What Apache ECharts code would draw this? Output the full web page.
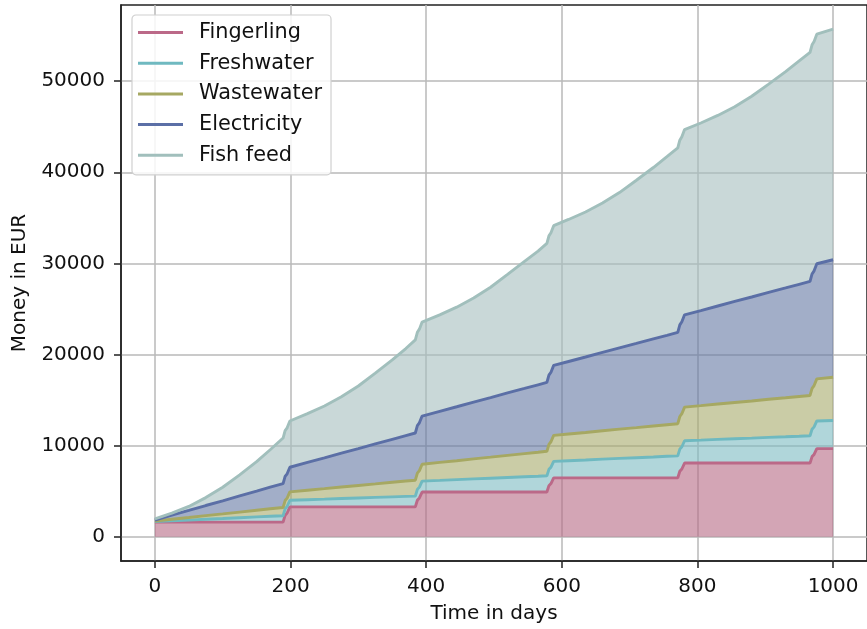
<!DOCTYPE html>
<html>
<head>
<meta charset="utf-8">
<script src="https://cdn.jsdelivr.net/npm/echarts@6/dist/echarts.min.js"></script>
<style>
html,body{margin:0;padding:0;background:#fff;}
#chart{width:867px;height:629px;}
</style>
</head>
<body>
<div id="chart"></div>
<script>
// Time axis (days) shared by all series
const days = [0,25,50,75,100,125,150,170,189, 192,195,199,
  225,250,275,300,325,350,370,384, 387,390,394,
  420,445,470,495,520,545,565,578, 581,584,588,
  610,635,660,685,710,735,755,771, 774,777,781,
  805,830,855,880,905,930,950,966, 969,972,976, 1000];

// Cost components in EUR (stacked)
const fingerling = [1600,1600,1600,1600,1600,1600,1600,1600,1600, 2350,2600,3270,
  3270,3270,3270,3270,3270,3270,3270,3270, 4000,4250,4900,
  4900,4900,4900,4900,4900,4900,4900,4900, 5600,5830,6450,
  6450,6450,6450,6450,6450,6450,6450,6450, 7180,7430,8080,
  8080,8080,8080,8080,8080,8080,8080,8080, 8790,9030,9660, 9660];

const freshwater = [50,140,220,310,390,480,570,640,700, 710,720,730,
  790,850,920,980,1040,1100,1150,1180, 1190,1190,1200,
  1280,1360,1440,1520,1600,1680,1740,1780, 1790,1800,1820,
  1890,1970,2060,2140,2220,2300,2370,2420, 2430,2440,2450,
  2520,2600,2670,2740,2820,2890,2950,3000, 3010,3020,3040, 3100];

const wastewater = [70,180,290,400,510,620,730,820,900, 905,910,920,
  1040,1150,1260,1370,1480,1600,1690,1750, 1780,1810,1850,
  1970,2080,2200,2310,2430,2540,2630,2690, 2740,2790,2850,
  2930,3020,3120,3210,3300,3400,3470,3530, 3580,3630,3690,
  3780,3880,3980,4080,4180,4280,4360,4420, 4480,4540,4620, 4740];

const electricity = [110,440,770,1110,1440,1770,2100,2370,2620, 2645,2670,2700,
  3050,3380,3720,4050,4390,4720,4990,5180, 5215,5250,5290,
  5610,5920,6230,6540,6850,7150,7400,7560, 7595,7630,7680,
  7960,8280,8600,8920,9240,9560,9810,10020, 10055,10090,10130,
  10440,10760,11090,11410,11730,12050,12310,12520, 12555,12590,12640, 12900];

const fishFeed = [130,220,440,870,1490,2310,3230,4110,5010, 5030,5050,5080,
  5350,5690,6180,6870,7770,8710,9550,10220, 10250,10280,10320,
  10590,10930,11420,12110,13010,13950,14680,15270, 15290,15310,15340,
  15590,15920,16390,17050,17910,18810,19610,20250, 20280,20310,20340,
  20590,20920,21380,22030,22870,23750,24530,25140, 25160,25180,25200, 25300];

const seriesNames = ['Fingerling','Freshwater','Wastewater','Electricity','Fish feed'];
const xTicks = [0,200,400,600,800,1000];
const yTicks = [0,10000,20000,30000,40000,50000];

const lineColors = ['#bb6988','#6fb9c0','#a6a862','#5b6fa6','#a1bfbc'];
const fillColors = ['rgba(182,105,132,0.6)','rgba(123,187,193,0.6)','rgba(167,170,107,0.6)','rgba(100,120,163,0.6)','rgba(165,190,190,0.6)'];

const values = [fingerling, freshwater, wastewater, electricity, fishFeed];
const FONT = 'DejaVu Sans';

const chart = echarts.init(document.getElementById('chart'), null, {renderer:'canvas'});
chart.setOption({
  animation:false,
  backgroundColor:'#fff',
  grid:{left:121, right:-6, top:5, bottom:66, show:true, borderColor:'#222', borderWidth:1.5, backgroundColor:'transparent', containLabel:false},
  legend:{
    orient:'vertical', left:132, top:15,
    padding:[7,9,9,6],
    backgroundColor:'rgba(255,255,255,0.85)',
    borderColor:'#d0d0d0', borderWidth:1.2, borderRadius:4,
    icon:'rect', itemWidth:45, itemHeight:3, itemGap:9.7,
    selectedMode:false,
    textStyle:{fontFamily:FONT, fontSize:20.8, color:'#111', lineHeight:21, padding:[0,0,0,11]},
    data: seriesNames.map((n,i)=>({name:n, itemStyle:{color:lineColors[i], borderWidth:0}}))
  },
  xAxis:{
    type:'value', min:-50, max:1050,
    name:'Time in days', nameLocation:'middle', nameGap:43,
    nameTextStyle:{fontFamily:FONT, fontSize:20, color:'#111'},
    axisLine:{show:true, onZero:false, lineStyle:{color:'#222', width:1.5}},
    axisTick:{show:true, length:7, customValues:xTicks, lineStyle:{color:'#222', width:1.5}},
    axisLabel:{customValues:xTicks, margin:16, fontFamily:FONT, fontSize:20, color:'#111', formatter:v=>String(v)},
    splitLine:{show:true, lineStyle:{color:'#b8b8b8', width:1.5}}
  },
  yAxis:{
    type:'value', min:-2670, max:58360,
    name:'Money in EUR', nameLocation:'middle', nameGap:91, nameRotate:90,
    nameTextStyle:{fontFamily:FONT, fontSize:20, color:'#111'},
    axisLine:{show:true, onZero:false, lineStyle:{color:'#222', width:1.5}},
    axisTick:{show:true, length:7, customValues:yTicks, lineStyle:{color:'#222', width:1.5}},
    axisLabel:{customValues:yTicks, margin:16, fontFamily:FONT, fontSize:20, color:'#111', formatter:v=>String(v)},
    splitLine:{show:true, lineStyle:{color:'#b8b8b8', width:1.5}}
  },
  series: seriesNames.map((n,i)=>({
    name:n, type:'line', stack:'total',
    // value first so that the stack is applied to the money dimension
    data: days.map((d,k)=>[values[i][k], d]),
    encode:{x:1, y:0},
    symbol:'none', showSymbol:false,
    lineStyle:{color:lineColors[i], width:2.9},
    itemStyle:{color:lineColors[i]},
    areaStyle:{color:fillColors[i], opacity:1},
    emphasis:{disabled:true}
  }))
});
</script>
</body>
</html>
